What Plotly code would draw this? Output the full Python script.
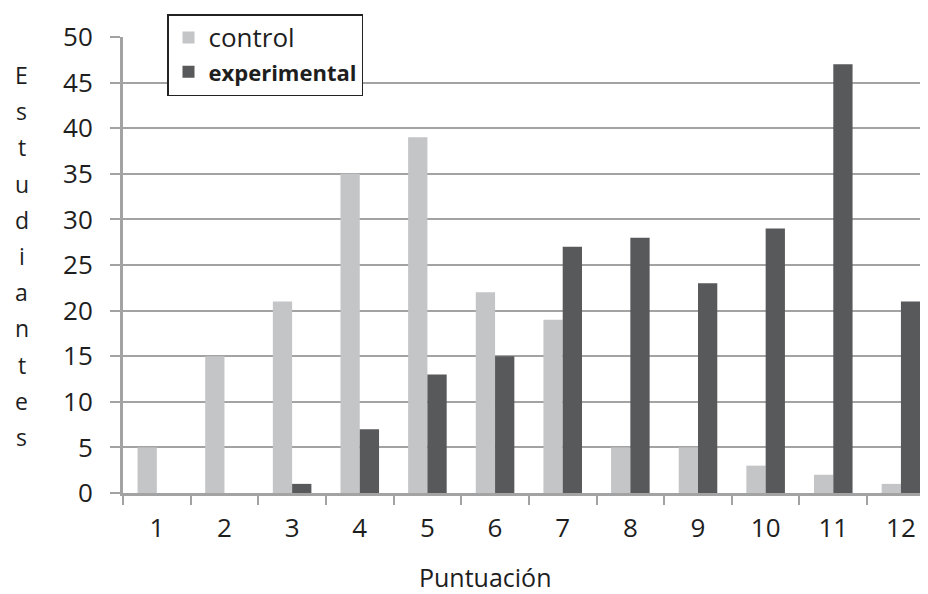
import plotly.graph_objects as go

# data
puntuacion = ['1', '2', '3', '4', '5', '6', '7', '8', '9', '10', '11', '12']
control = [5, 15, 21, 35, 39, 22, 19, 5, 5, 3, 2, 1]
experimental = [0, 0, 1, 7, 13, 15, 27, 28, 23, 29, 47, 21]
y_letters = list('Estudiantes')

grid_col = '#a3a3a3'
txt_col = '#1e1e1e'

# figure sized to fit the window once the page body adds its 8px offset
FW, FH = 920, 586
L, T, B, H = 115, 29, 101, 456
W = FW - L


def px(x):
    return (x - 8 - L) / W


def py(y):
    return (FH - B - (y - 8)) / H


fig = go.Figure()
fig.add_trace(go.Bar(
    x=puntuacion, y=control,
    name='<span style="font-size:26px">control</span>',
    marker=dict(color='#c4c5c7', line=dict(width=0))
))
fig.add_trace(go.Bar(
    x=puntuacion, y=experimental,
    name='<b><span style="font-size:22px">experimental</span></b>',
    marker=dict(color='#58595b', line=dict(width=0))
))

fig.update_layout(
    width=FW, height=FH,
    margin=dict(l=L, r=0, t=T, b=B),
    plot_bgcolor='white', paper_bgcolor='white',
    font=dict(family='Open Sans', color=txt_col, size=24),
    barmode='group', bargap=0.43, bargroupgap=0,
    legend=dict(
        x=px(167), y=py(14), xanchor='left', yanchor='top',
        bordercolor='#222222', borderwidth=1.5, bgcolor='white',
        font=dict(size=24, color=txt_col),
        tracegroupgap=0, itemwidth=30
    ),
    xaxis=dict(
        type='category', range=[-0.5, 11.4], automargin=False,
        showline=True, linecolor=grid_col, linewidth=3,
        ticks='outside', tickson='boundaries', ticklen=9, tickwidth=2,
        tickcolor=grid_col, showgrid=False,
        tickfont=dict(size=26), ticklabelstandoff=10
    ),
    yaxis=dict(
        range=[0, 50], dtick=5, automargin=False,
        showline=True, linecolor=grid_col, linewidth=3,
        showgrid=True, gridcolor=grid_col, gridwidth=2,
        ticks='outside', ticklen=10, tickwidth=2, tickcolor=grid_col,
        tickfont=dict(size=26), zeroline=False,
        ticklabelstandoff=12
    ),
    showlegend=True
)

# x axis title
fig.add_annotation(
    text='Puntuación', xref='paper', yref='paper',
    x=px(485), y=py(577),
    xanchor='center', yanchor='middle', showarrow=False,
    font=dict(size=25, color=txt_col)
)

# y axis title, one letter under the other
step = 36.2
for i, ch in enumerate(y_letters):
    fig.add_annotation(
        text=ch, xref='paper', yref='paper',
        x=px(22), y=py(75 + i * step),
        xanchor='center', yanchor='middle', showarrow=False,
        font=dict(size=23, color=txt_col)
    )

fig.write_html('out.html')
